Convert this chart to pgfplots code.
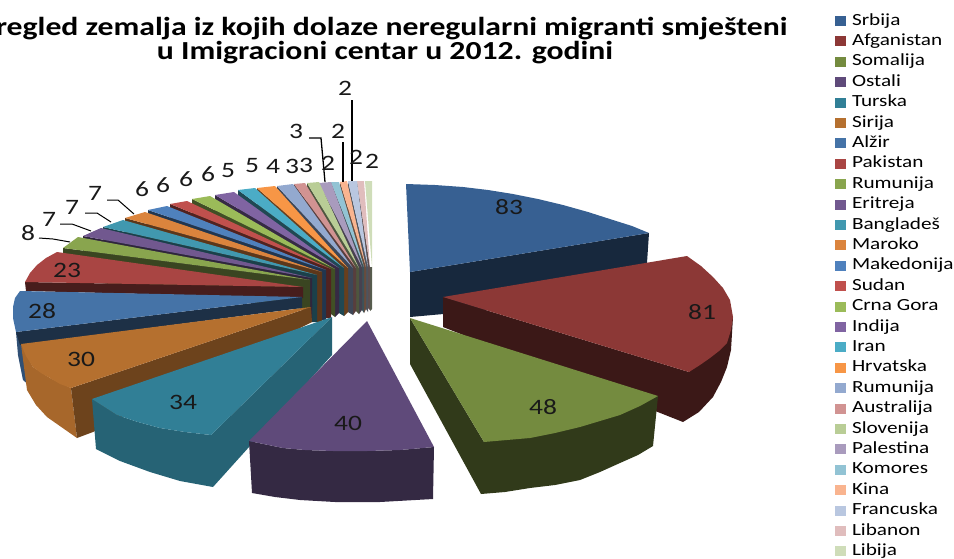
\documentclass[border=0pt]{standalone}
\usepackage{pgfplots}
\pgfplotsset{compat=1.18}
\usepackage{fontspec}
\setmainfont[FakeStretch=1.25]{Carlito}
\newfontfamily\ttlfont[FakeStretch=1.22]{Carlito}
\definecolor{c1}{HTML}{376092}\definecolor{c2}{HTML}{8C3836}\definecolor{c3}{HTML}{748B3F}
\definecolor{c4}{HTML}{5F4A7A}\definecolor{c5}{HTML}{317F96}\definecolor{c6}{HTML}{B5702F}
\definecolor{c7}{HTML}{4573A7}\definecolor{c8}{HTML}{A94543}\definecolor{c9}{HTML}{89A54E}
\definecolor{c10}{HTML}{71588F}\definecolor{c11}{HTML}{4198AF}\definecolor{c12}{HTML}{DB843D}
\definecolor{c13}{HTML}{4F81BD}\definecolor{c14}{HTML}{C0504D}\definecolor{c15}{HTML}{9BBB59}
\definecolor{c16}{HTML}{8064A2}\definecolor{c17}{HTML}{4BACC6}\definecolor{c18}{HTML}{F79646}
\definecolor{c19}{HTML}{93A9CF}\definecolor{c20}{HTML}{D19392}\definecolor{c21}{HTML}{B9CD96}
\definecolor{c22}{HTML}{A99BBD}\definecolor{c23}{HTML}{92C3D4}\definecolor{c24}{HTML}{F9B48F}
\definecolor{c25}{HTML}{B9C7E0}\definecolor{c26}{HTML}{E0BDBD}\definecolor{c27}{HTML}{CFDDB9}
\pgfplotsset{
  top/.style={fill=#1,draw=none,forget plot},
  side/.style={fill=#1!42!black,draw=none,forget plot},
  lead/.style={black,line width=1pt,forget plot},
  sq/.style={fill=#1,draw=none},
}
\tikzset{lab/.style={font=\fontsize{22}{22}\selectfont,inner sep=0pt,text=black!90}}
\begin{document}
\begin{tikzpicture}
\clip (0,0) rectangle (954pt,558pt);
\begin{axis}[
  scale only axis,width=954pt,height=558pt,
  xmin=0,xmax=954,ymin=0,ymax=558,y dir=reverse,
  hide axis,clip=false,no markers,
  legend cell align=left,
  legend image code/.code={\path[#1,draw=none] (0pt,-1pt) rectangle (11pt,9pt);},
  legend style={at={(835/954,1-14/558)},anchor=north west,draw=none,fill=none,inner sep=0pt,outer sep=0pt,
    row sep=5.4pt,column sep=6pt,
    nodes={font=\fontsize{17}{17}\selectfont,text height=11pt,text depth=4pt,inner sep=0pt,outer sep=0pt,anchor=base west}},
]
% ---- inner strips of the small slices, back to front
\addplot[side=c27] coordinates {(370,267)(372,267)(372,309)(370,311)};
\addplot[side=c26] coordinates {(368,267)(370,267)(370,310)(368,308)};
\addplot[side=c25] coordinates {(366,267)(368,267)(368,312)(366,309)};
\addplot[side=c24] coordinates {(364,267)(366,267)(366,309)(364,313)};
\addplot[side=c23] coordinates {(362,267)(364,267)(364,313)(362,310)};
\addplot[side=c22] coordinates {(359,268)(362,267)(362,310)(359,314)};
\addplot[side=c21] coordinates {(356,268)(359,268)(359,314)(356,311)};
\addplot[side=c20] coordinates {(353,268)(356,268)(356,311)(353,315)};
\addplot[side=c19] coordinates {(348,268)(353,268)(353,315)(348,312)};
\addplot[side=c18] coordinates {(344,268)(348,268)(348,312)(344,316)};
\addplot[side=c17] coordinates {(339,268)(344,268)(344,316)(339,313)};
\addplot[side=c16] coordinates {(335,269)(339,268)(339,313)(335,317)};
\addplot[side=c15] coordinates {(331,269)(335,269)(335,317)(331,314)};
\addplot[side=c14] coordinates {(326,270)(331,269)(331,318)(326,318)};
\addplot[side=c13] coordinates {(322,272)(326,270)(326,320)(322,320)};
\addplot[side=c12] coordinates {(317,275)(322,272)(322,322)(317,322)};
\addplot[side=c11] coordinates {(312,278)(317,275)(317,322)(312,322)};
\addplot[side=c10] coordinates {(310,280)(312,278)(312,322)(310,322)};
\addplot[side=c9]  coordinates {(303,287)(310,280)(310,322)(303,322)};
% ---- small slices, Libija first
\addplot[top=c27] coordinates {(372,267)(365,181)(372,181)};
\addplot[side=c26] coordinates {(357,181)(370,267)(370,297)(357,211)};
\addplot[top=c26] coordinates {(370,267)(357,181)(364,181)};
\addplot[side=c25] coordinates {(348,181)(368,267)(368,297)(348,211)};
\addplot[top=c25] coordinates {(368,267)(348,181)(357,181)};
\addplot[side=c24] coordinates {(340,182)(366,267)(366,297)(340,212)};
\addplot[top=c24] coordinates {(366,267)(340,182)(347,181)};
\addplot[side=c23] coordinates {(331,182)(364,267)(364,297)(331,212)};
\addplot[top=c23] coordinates {(364,267)(331,182)(339,182)};
\addplot[side=c22] coordinates {(319,183)(362,267)(362,297)(319,213)};
\addplot[top=c22] coordinates {(362,267)(319,183)(331,182)};
\addplot[side=c21] coordinates {(307,183)(359,268)(359,298)(307,213)};
\addplot[top=c21] coordinates {(359,268)(307,183)(319,182)};
\addplot[side=c20] coordinates {(294,184)(356,268)(356,298)(294,214)};
\addplot[top=c20] coordinates {(356,268)(294,184)(305,183)};
\addplot[side=c19] coordinates {(277,186)(353,268)(353,298)(277,216)};
\addplot[top=c19] coordinates {(353,268)(277,186)(293,184)};
\addplot[side=c18] coordinates {(257,188)(348,268)(348,298)(257,218)};
\addplot[top=c18] coordinates {(348,268)(257,188)(275,186)};
\addplot[side=c17] coordinates {(238,190)(344,268)(344,298)(238,220)};
\addplot[top=c17] coordinates {(344,268)(238,190)(255,188)};
\addplot[side=c16] coordinates {(215,195)(339,268)(339,298)(215,225)};
\addplot[top=c16] coordinates {(339,268)(215,195)(234,192)};
\addplot[side=c15] coordinates {(192,199)(335,269)(335,299)(192,229)};
\addplot[top=c15] coordinates {(335,269)(192,199)(210,196)};
\addplot[side=c14] coordinates {(170,204)(331,269)(331,299)(170,234)};
\addplot[top=c14] coordinates {(331,269)(170,204)(187,201)};
\addplot[side=c13] coordinates {(148,210)(326,270)(326,300)(148,240)};
\addplot[top=c13] coordinates {(326,270)(148,210)(167,206)};
\addplot[side=c12] coordinates {(125,218)(322,272)(322,302)(125,248)};
\addplot[top=c12] coordinates {(322,272)(125,218)(145,212)};
\addplot[side=c11] coordinates {(103,227)(317,275)(317,305)(103,257)};
\addplot[top=c11] coordinates {(317,275)(103,227)(123,220)};
\addplot[side=c10] coordinates {(83,236)(312,278)(312,308)(83,266)};
\addplot[top=c10] coordinates {(312,278)(83,236)(101,228)};
\addplot[side=c9] coordinates {(63,248)(310,280)(310,310)(63,278)};
\addplot[top=c9] coordinates {(310,280)(63,248)(78,237)};
% ---- Pakistan
\addplot[side=c8] coordinates {(25,282)(303,287)(303,298)(26,291)};
\addplot[top=c8] coordinates {(303,287)(25,282)(30,273)(37,265)(46,258)(57,252)};
% ---- Alzir
\addplot[fill=c7!70!black,draw=none,forget plot] coordinates {(16,332)(18,355)(23,380)(30,386)(30,340)};
\addplot[side=c7] coordinates {(16,332)(302,297)(302,308)(20,345)};
\addplot[top=c7] coordinates {(302,297)(16,332)(13,318)(13,307)(15,298)(20,291)};
% ---- Sirija
\addplot[fill=c6!92!black,draw=none,forget plot] coordinates {(21,344)(27,390)(36,405)(47,417)(77,438)(71,388)(50,378)(33,367)};
\addplot[fill=c6!60!black,draw=none,forget plot] coordinates {(71,388)(311,307)(312,322)(93,432)(77,438)};
\addplot[top=c6] coordinates {(311,307)(21,344)(26,356)(33,367)(41,373)(50,378)(60,384)(71,388)};
% ---- Turska
\addplot[fill=c5!78!black,draw=none,forget plot] coordinates {(92,399)(96,449)(120,461)(150,472)(180,481)(213,487)(332,355)(332,317)(211,435)(185,432)(160,428)(138,422)(117,415)};
\addplot[top=c5] coordinates {(332,317)(92,399)(117,415)(138,422)(160,428)(185,432)(211,435)};
% ---- Ostali
\addplot[fill=c4!55!black,draw=none,forget plot] coordinates {(249,441)(252,493)(275,497)(300,500)(335,502)(380,502)(433,499)(434,447)(400,450)(367,451)(333,451)(305,450)(283,448)};
\addplot[top=c4] coordinates {(367,321)(249,441)(283,448)(305,450)(333,451)(367,451)(400,450)(434,447)};
% ---- Srbija
\addplot[side=c1] coordinates {(410,272)(649,233)(647,263)(600,300)(410,317)};
\addplot[top=c1] coordinates {(410,272)(406,184)(435,185)(463,187)(488,190)(513,194)(538,199)(563,205)(588,212)(613,220)(632,226)(649,233)};
% ---- Afganistan
\addplot[side=c2] coordinates {(443,297)(443,327)(683,422)(699,412)(713,397)(721,382)(727,367)(731,350)(733,317)(689,372)};
\addplot[top=c2] coordinates {(443,297)(687,256)(701,266)(713,277)(723,288)(730,300)(733,317)(731,330)(727,343)(719,351)(710,358)(700,365)(689,372)};
% ---- Somalija
\addplot[side=c3] coordinates {(410,318)(410,364)(481,494)(505,492)(530,488)(555,485)(580,480)(600,472)(620,463)(638,455)(653,446)(658,396)(484,442)};
\addplot[top=c3] coordinates {(410,318)(658,396)(640,406)(620,415)(600,421)(580,427)(555,433)(530,438)(507,440)(484,442)};
% ---- leader lines
\addplot[lead] coordinates {(39,238)(53,239)(70,242)};
\addplot[lead] coordinates {(60,224)(72,224)(91,231)};
\addplot[lead] coordinates {(85,213)(97,213)(111,222)};
\addplot[lead] coordinates {(107,200)(118,200)(134,214)};
\addplot[lead,line width=1.3pt] coordinates {(309,138)(321,138)(325,182)};
\addplot[lead,line width=1.6pt] coordinates {(343,142)(343,182)};
\addplot[lead,line width=1.6pt] coordinates {(352,100)(352,181)};
% ---- data labels
\node[lab] at (axis cs:509,207) {83};
\node[lab] at (axis cs:702,312) {81};
\node[lab] at (axis cs:543,407) {48};
\node[lab] at (axis cs:348,423) {40};
\node[lab] at (axis cs:183,402) {34};
\node[lab] at (axis cs:81,359) {30};
\node[lab] at (axis cs:42,311) {28};
\node[lab] at (axis cs:67,270) {23};
\node[lab] at (axis cs:28,233) {8};
\node[lab] at (axis cs:49,219) {7};
\node[lab] at (axis cs:72,207) {7};
\node[lab] at (axis cs:95,193) {7};
\node[lab] at (axis cs:142,189) {6};
\node[lab] at (axis cs:163,185) {6};
\node[lab] at (axis cs:186,179) {6};
\node[lab] at (axis cs:208,174) {6};
\node[lab] at (axis cs:228,171) {5};
\node[lab] at (axis cs:252,166) {5};
\node[lab] at (axis cs:273,166) {4};
\node[lab] at (axis cs:292,166) {3};
\node[lab] at (axis cs:306,165) {3};
\node[lab] at (axis cs:296,131) {3};
\node[lab] at (axis cs:328,163) {2};
\node[lab] at (axis cs:338,131) {2};
\node[lab] at (axis cs:345,88) {2};
\node[lab] at (axis cs:356,157) {2};
\node[lab] at (axis cs:372,161) {2};
% ---- title
\node[font={\ttlfont\bfseries\fontsize{26}{26}\selectfont},anchor=east,inner sep=0pt] at (axis cs:788,29) {Pregled zemalja iz kojih dolaze neregularni migranti smješteni};
\node[font={\ttlfont\bfseries\fontsize{26}{26}\selectfont},inner sep=0pt] at (axis cs:385,53) {u Imigracioni centar u 2012. godini};
% ---- legend
\addlegendimage{sq=c1}\addlegendentry{Srbija}
\addlegendimage{sq=c2}\addlegendentry{Afganistan}
\addlegendimage{sq=c3}\addlegendentry{Somalija}
\addlegendimage{sq=c4}\addlegendentry{Ostali}
\addlegendimage{sq=c5}\addlegendentry{Turska}
\addlegendimage{sq=c6}\addlegendentry{Sirija}
\addlegendimage{sq=c7}\addlegendentry{Alžir}
\addlegendimage{sq=c8}\addlegendentry{Pakistan}
\addlegendimage{sq=c9}\addlegendentry{Rumunija}
\addlegendimage{sq=c10}\addlegendentry{Eritreja}
\addlegendimage{sq=c11}\addlegendentry{Bangladeš}
\addlegendimage{sq=c12}\addlegendentry{Maroko}
\addlegendimage{sq=c13}\addlegendentry{Makedonija}
\addlegendimage{sq=c14}\addlegendentry{Sudan}
\addlegendimage{sq=c15}\addlegendentry{Crna Gora}
\addlegendimage{sq=c16}\addlegendentry{Indija}
\addlegendimage{sq=c17}\addlegendentry{Iran}
\addlegendimage{sq=c18}\addlegendentry{Hrvatska}
\addlegendimage{sq=c19}\addlegendentry{Rumunija}
\addlegendimage{sq=c20}\addlegendentry{Australija}
\addlegendimage{sq=c21}\addlegendentry{Slovenija}
\addlegendimage{sq=c22}\addlegendentry{Palestina}
\addlegendimage{sq=c23}\addlegendentry{Komores}
\addlegendimage{sq=c24}\addlegendentry{Kina}
\addlegendimage{sq=c25}\addlegendentry{Francuska}
\addlegendimage{sq=c26}\addlegendentry{Libanon}
\addlegendimage{sq=c27}\addlegendentry{Libija}
\end{axis}
\end{tikzpicture}
\end{document}
